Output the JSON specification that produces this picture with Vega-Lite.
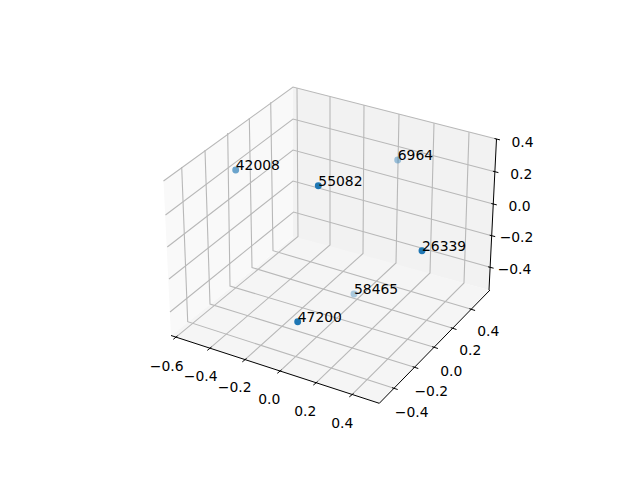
{"$schema":"https://vega.github.io/schema/vega-lite/v6.json","width":640,"height":480,"padding":0,"autosize":{"type":"none"},"background":"white","view":{"stroke":null},
"datasets":{
"panes":[
{"pane":"x","sx":163.5,"sy":181,"sy2":181},{"pane":"x","sx":171,"sy":175.6,"sy2":336},{"pane":"x","sx":293,"sy":87,"sy2":236.8},
{"pane":"y","sx":293,"sy":87,"sy2":236.8},{"pane":"y","sx":489,"sy":137,"sy2":290},{"pane":"y","sx":496.5,"sy":139,"sy2":139},
{"pane":"z","sx":171,"sy":336,"sy2":336},{"pane":"z","sx":294,"sy":236.5,"sy2":376.2},{"pane":"z","sx":379.3,"sy":259.6,"sy2":403.3},{"pane":"z","sx":489,"sy":290,"sy2":290}],
"grid":[
{"id":"x-0.6","seq":1,"sx":176,"sy":337.1},{"id":"x-0.6","seq":2,"sx":298,"sy":236.5},{"id":"x-0.6","seq":3,"sx":297,"sy":88},
{"id":"x-0.4","seq":1,"sx":210,"sy":348.2},{"id":"x-0.4","seq":2,"sx":330,"sy":245},{"id":"x-0.4","seq":3,"sx":330,"sy":96.5},
{"id":"x-0.2","seq":1,"sx":245,"sy":359.7},{"id":"x-0.2","seq":2,"sx":363,"sy":253.5},{"id":"x-0.2","seq":3,"sx":364,"sy":105},
{"id":"x0.0","seq":1,"sx":280,"sy":371.1},{"id":"x0.0","seq":2,"sx":396,"sy":263},{"id":"x0.0","seq":3,"sx":399,"sy":114},
{"id":"x0.2","seq":1,"sx":316,"sy":382.9},{"id":"x0.2","seq":2,"sx":430,"sy":273},{"id":"x0.2","seq":3,"sx":434,"sy":123.3},
{"id":"x0.4","seq":1,"sx":352,"sy":394.7},{"id":"x0.4","seq":2,"sx":464,"sy":283},{"id":"x0.4","seq":3,"sx":469,"sy":132.3},
{"id":"y-0.4","seq":1,"sx":394,"sy":388.3},{"id":"y-0.4","seq":2,"sx":187.7,"sy":321.7},{"id":"y-0.4","seq":3,"sx":181.7,"sy":167},
{"id":"y-0.2","seq":1,"sx":414.6,"sy":367.3},{"id":"y-0.2","seq":2,"sx":210,"sy":304},{"id":"y-0.2","seq":3,"sx":205,"sy":150},
{"id":"y0.0","seq":1,"sx":434.2,"sy":347.3},{"id":"y0.0","seq":2,"sx":230,"sy":286},{"id":"y0.0","seq":3,"sx":227.7,"sy":133},
{"id":"y0.2","seq":1,"sx":452.8,"sy":328.3},{"id":"y0.2","seq":2,"sx":252,"sy":267.5},{"id":"y0.2","seq":3,"sx":249.3,"sy":118},
{"id":"y0.4","seq":1,"sx":471.4,"sy":309.3},{"id":"y0.4","seq":2,"sx":273,"sy":250.7},{"id":"y0.4","seq":3,"sx":270.7,"sy":102.3},
{"id":"z0.4","seq":1,"sx":496.5,"sy":139},{"id":"z0.4","seq":2,"sx":293,"sy":87},{"id":"z0.4","seq":3,"sx":163.5,"sy":181},
{"id":"z0.2","seq":1,"sx":494.9,"sy":171.7},{"id":"z0.2","seq":2,"sx":293,"sy":119},{"id":"z0.2","seq":3,"sx":165.5,"sy":215},
{"id":"z0.0","seq":1,"sx":493.3,"sy":204},{"id":"z0.0","seq":2,"sx":293,"sy":150},{"id":"z0.0","seq":3,"sx":167.3,"sy":247},
{"id":"z-0.2","seq":1,"sx":491.7,"sy":235.7},{"id":"z-0.2","seq":2,"sx":293,"sy":181},{"id":"z-0.2","seq":3,"sx":169,"sy":279},
{"id":"z-0.4","seq":1,"sx":490.1,"sy":267.3},{"id":"z-0.4","seq":2,"sx":293.5,"sy":212},{"id":"z-0.4","seq":3,"sx":170,"sy":312}],
"axes":[
{"id":"xaxis","seq":1,"sx":171,"sy":335.5},{"id":"xaxis","seq":2,"sx":379.3,"sy":403.3},{"id":"yaxis","seq":1,"sx":379.3,"sy":403.3},{"id":"yaxis","seq":2,"sx":490,"sy":290},{"id":"zaxis","seq":1,"sx":489,"sy":290},{"id":"zaxis","seq":2,"sx":496.5,"sy":139},
{"id":"xt1","seq":1,"sx":177.5,"sy":335.9},{"id":"xt1","seq":2,"sx":173.3,"sy":339.3},
{"id":"xt2","seq":1,"sx":211.5,"sy":347},{"id":"xt2","seq":2,"sx":207.3,"sy":350.4},
{"id":"xt3","seq":1,"sx":246.5,"sy":358.5},{"id":"xt3","seq":2,"sx":242.3,"sy":361.9},
{"id":"xt4","seq":1,"sx":281.5,"sy":369.9},{"id":"xt4","seq":2,"sx":277.3,"sy":373.3},
{"id":"xt5","seq":1,"sx":317.5,"sy":381.7},{"id":"xt5","seq":2,"sx":313.3,"sy":385.1},
{"id":"xt6","seq":1,"sx":353.5,"sy":393.5},{"id":"xt6","seq":2,"sx":349.3,"sy":396.9},
{"id":"yt1","seq":1,"sx":392,"sy":387.7},{"id":"yt1","seq":2,"sx":397.7,"sy":389.5},
{"id":"yt2","seq":1,"sx":412.6,"sy":366.7},{"id":"yt2","seq":2,"sx":418.3,"sy":368.5},
{"id":"yt3","seq":1,"sx":432.2,"sy":346.7},{"id":"yt3","seq":2,"sx":437.9,"sy":348.5},
{"id":"yt4","seq":1,"sx":450.8,"sy":327.7},{"id":"yt4","seq":2,"sx":456.5,"sy":329.5},
{"id":"yt5","seq":1,"sx":469.4,"sy":308.7},{"id":"yt5","seq":2,"sx":475.1,"sy":310.5},
{"id":"zt1","seq":1,"sx":494.5,"sy":138.5},{"id":"zt1","seq":2,"sx":500,"sy":139.9},
{"id":"zt2","seq":1,"sx":492.9,"sy":171.2},{"id":"zt2","seq":2,"sx":498.4,"sy":172.6},
{"id":"zt3","seq":1,"sx":491.3,"sy":203.5},{"id":"zt3","seq":2,"sx":496.8,"sy":204.9},
{"id":"zt4","seq":1,"sx":489.7,"sy":235.2},{"id":"zt4","seq":2,"sx":495.2,"sy":236.6},
{"id":"zt5","seq":1,"sx":488.1,"sy":266.8},{"id":"zt5","seq":2,"sx":493.6,"sy":268.2}],
"ticklabels":[
{"t":"−0.6","sx":166.7,"sy":366.7},{"t":"−0.4","sx":200.7,"sy":377.3},{"t":"−0.2","sx":234.7,"sy":388.3},{"t":"0.0","sx":269.3,"sy":400},{"t":"0.2","sx":305.3,"sy":412.3},{"t":"0.4","sx":342.3,"sy":424.3},
{"t":"−0.4","sx":411.7,"sy":413.3},{"t":"−0.2","sx":431.3,"sy":392.3},{"t":"0.0","sx":451.3,"sy":371.7},{"t":"0.2","sx":470.3,"sy":351.3},{"t":"0.4","sx":488.3,"sy":332},
{"t":"0.4","sx":522.5,"sy":142.8},{"t":"0.2","sx":521.2,"sy":175},{"t":"0.0","sx":519.5,"sy":206.7},{"t":"−0.2","sx":516.5,"sy":238.3},{"t":"−0.4","sx":514.5,"sy":269.5}],
"points":[
{"label":"42008","sx":235.7,"sy":170,"depth":0.65},
{"label":"55082","sx":318.3,"sy":185.7,"depth":1},
{"label":"6964","sx":397.7,"sy":160,"depth":0.42},
{"label":"26339","sx":422,"sy":250.7,"depth":1},
{"label":"58465","sx":354,"sy":294,"depth":0.35},
{"label":"47200","sx":297.7,"sy":321.7,"depth":1}]
},
"encoding":{
"x":{"field":"sx","type":"quantitative","axis":null,"scale":{"domain":[0,640],"nice":false,"zero":false}},
"y":{"field":"sy","type":"quantitative","axis":null,"scale":{"domain":[480,0],"nice":false,"zero":false}}
},
"layer":[
{"data":{"name":"panes"},"mark":{"type":"area","strokeWidth":0},"encoding":{"y2":{"field":"sy2"},"color":{"field":"pane","type":"nominal","legend":null,"scale":{"domain":["x","y","z"],"range":["#f9f9f9","#f2f2f2","#f5f5f5"]}}}},
{"data":{"name":"grid"},"mark":{"type":"line","stroke":"#b8b8b8","strokeWidth":1.1},"encoding":{"detail":{"field":"id"},"order":{"field":"seq","type":"quantitative"}}},
{"data":{"name":"axes"},"mark":{"type":"line","stroke":"#000000","strokeWidth":1},"encoding":{"detail":{"field":"id"},"order":{"field":"seq","type":"quantitative"}}},
{"data":{"name":"ticklabels"},"mark":{"type":"text","font":"DejaVu Sans","fontSize":13.9,"align":"center","baseline":"middle","color":"#000000"},"encoding":{"text":{"field":"t"}}},
{"data":{"name":"points"},"mark":{"type":"circle","size":48,"color":"#1f77b4"},"encoding":{"opacity":{"field":"depth","type":"quantitative","legend":null,"scale":{"domain":[0,1],"range":[0,1]}}}},
{"data":{"name":"points"},"mark":{"type":"text","font":"DejaVu Sans","fontSize":13.9,"align":"left","baseline":"alphabetic","color":"#000000"},"encoding":{"text":{"field":"label"}}}
]}
